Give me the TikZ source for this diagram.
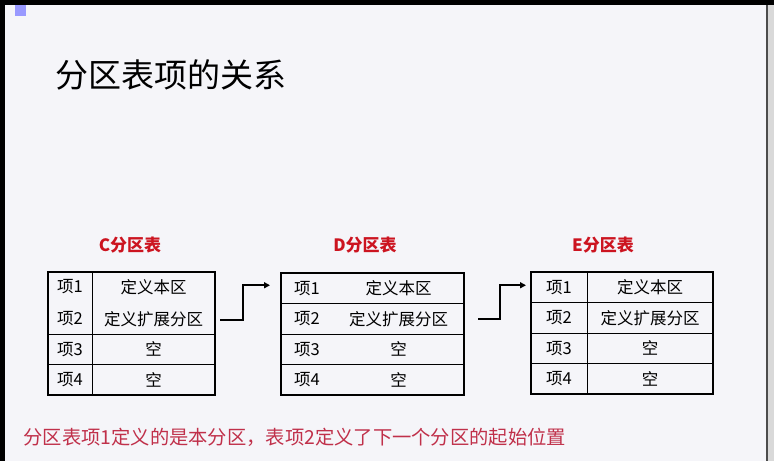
\documentclass[tikz,border=0pt]{standalone}
\usepackage{fontspec}
\newfontfamily\cjk{Noto Sans CJK SC}
\usetikzlibrary{arrows.meta,positioning}
\definecolor{slidebg}{HTML}{F5F5F9}
\definecolor{tabred}{HTML}{CC1420}
\definecolor{notered}{HTML}{C0304A}

\begin{document}
\begin{tikzpicture}[x=1pt, y=-1pt,
    cell/.style={inner sep=0pt, outer sep=0pt, minimum height=30.5,
      font=\cjk\fontsize{16.5}{32}\selectfont, align=center},
    grid/.style={line width=0.8pt},
    frame/.style={line width=2.2pt},
    tabname/.style={font=\cjk\bfseries\fontsize{17}{20}\selectfont, text=tabred},
    link/.style={-{Triangle[length=6pt,width=6pt]}, line width=1.8pt}]
  \useasboundingbox (0,0) rectangle (774,461);
  \fill[slidebg] (0,0) rectangle (774,461);

  % window edges
  \fill[black] (0,0) rectangle (774,5);
  \fill[black] (0,0) rectangle (5,461);
  \fill[black!15] (768,5) rectangle (774,461);
  \draw[black!70, line width=1.5pt] (767,5) -- (767,461);
  \fill[blue!40!white] (15,5) rectangle (26,16);

  \node[anchor=west, font=\cjk\fontsize{33}{36}\selectfont] (title) at (52,75) {分区表项的关系};

  % C table
  \node[tabname] (Cname) at (130,245) {C分区表};
  \node[cell, minimum width=44, minimum height=62, anchor=north west] (Ck1) at (48,272) {项1\\项2};
  \node[cell, minimum width=123, minimum height=62, right=0pt of Ck1] (Cv1) {定义本区\\定义扩展分区};
  \node[cell, minimum width=44, below=0pt of Ck1] (Ck3) {项3};
  \node[cell, minimum width=123, right=0pt of Ck3] (Cv3) {空};
  \node[cell, minimum width=44, below=0pt of Ck3] (Ck4) {项4};
  \node[cell, minimum width=123, right=0pt of Ck4] (Cv4) {空};
  \draw[grid] (Ck1.north east) -- (Ck4.south east);
  \draw[grid] (Ck1.south west) -- (Cv1.south east);
  \draw[grid] (Ck3.south west) -- (Cv3.south east);
  \draw[frame] (Ck1.north west) rectangle (Cv4.south east);

  % D table
  \node[tabname] (Dname) at (365,245) {D分区表};
  \node[cell, minimum width=52, anchor=north west] (Dk1) at (281,273) {项1};
  \node[cell, minimum width=131, right=0pt of Dk1] (Dv1) {定义本区};
  \node[cell, minimum width=52, below=0pt of Dk1] (Dk2) {项2};
  \node[cell, minimum width=131, right=0pt of Dk2] (Dv2) {定义扩展分区};
  \node[cell, minimum width=52, below=0pt of Dk2] (Dk3) {项3};
  \node[cell, minimum width=131, right=0pt of Dk3] (Dv3) {空};
  \node[cell, minimum width=52, below=0pt of Dk3] (Dk4) {项4};
  \node[cell, minimum width=131, right=0pt of Dk4] (Dv4) {空};
  \foreach \r in {1,2,3}
    \draw[grid] (Dk\r.south west) -- (Dv\r.south east);
  \draw[frame] (Dk1.north west) rectangle (Dv4.south east);

  % E table
  \node[tabname] (Ename) at (603,245) {E分区表};
  \node[cell, minimum width=56, anchor=north west] (Ek1) at (531,272) {项1};
  \node[cell, minimum width=126, right=0pt of Ek1] (Ev1) {定义本区};
  \node[cell, minimum width=56, below=0pt of Ek1] (Ek2) {项2};
  \node[cell, minimum width=126, right=0pt of Ek2] (Ev2) {定义扩展分区};
  \node[cell, minimum width=56, below=0pt of Ek2] (Ek3) {项3};
  \node[cell, minimum width=126, right=0pt of Ek3] (Ev3) {空};
  \node[cell, minimum width=56, below=0pt of Ek3] (Ek4) {项4};
  \node[cell, minimum width=126, right=0pt of Ek4] (Ev4) {空};
  \draw[grid] (Ek1.north east) -- (Ek4.south east);
  \foreach \r in {1,2,3}
    \draw[grid] (Ek\r.south west) -- (Ev\r.south east);
  \draw[frame] (Ek1.north west) rectangle (Ev4.south east);

  % links between tables
  \coordinate (Cout) at ([shift={(5,17)}]Cv1.east);
  \coordinate (Dout) at ([shift={(14,0)}]Dv2.east);
  \draw[link] (Cout) -- ++(23,0) |- ([shift={(-11,-3)}]Dk1.west);
  \draw[link] (Dout) -- ++(22,0) |- ([shift={(-5,-2)}]Ek1.west);

  \node[anchor=west, text=notered, font=\cjk\fontsize{19.3}{22}\selectfont] (note) at (20,437)
    {分区表项1定义的是本分区，表项2定义了下一个分区的起始位置};
\end{tikzpicture}
\end{document}
